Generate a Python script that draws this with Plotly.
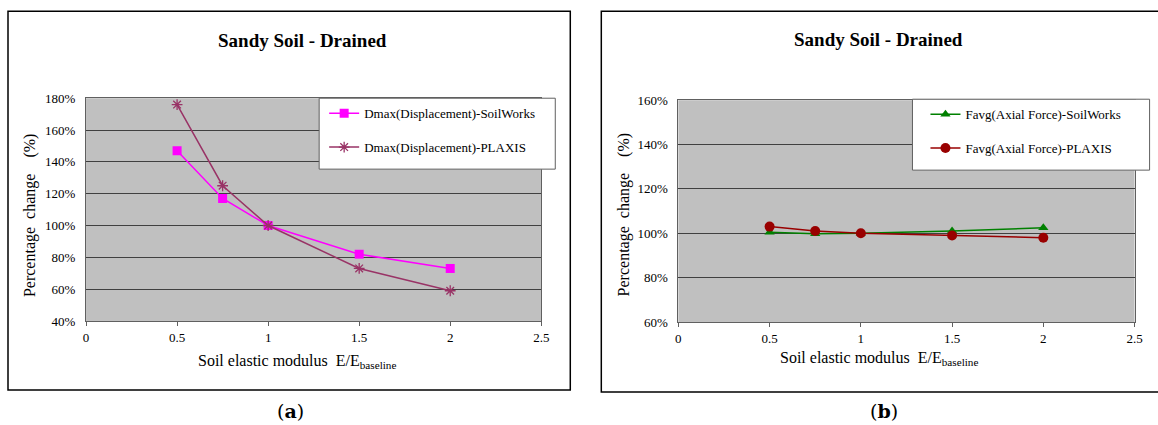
import plotly.graph_objects as go

# ---- data ----
x_vals = [0.5, 0.75, 1.0, 1.5, 2.0]
dmax_soilworks = [1.47, 1.17, 1.00, 0.82, 0.73]
dmax_plaxis = [1.76, 1.25, 1.00, 0.73, 0.59]
favg_soilworks = [1.005, 0.998, 1.00, 1.01, 1.025]
favg_plaxis = [1.03, 1.01, 1.00, 0.99, 0.98]

title_text = "Sandy Soil - Drained"
xtick_vals = [0, 0.5, 1, 1.5, 2, 2.5]
xtick_text = ["0", "0.5", "1", "1.5", "2", "2.5"]
ytick_a = [0.4, 0.6, 0.8, 1.0, 1.2, 1.4, 1.6, 1.8]
ytick_b = [0.6, 0.8, 1.0, 1.2, 1.4, 1.6]

W, H = 1158, 425
SERIF = "Liberation Serif, Times New Roman, serif"

# map target picture pixels to paper fractions (compensates the capture transform)
def px(X):
    return ((X - 3) / 0.99) / W

def py(Y):
    return 1 - ((Y - 5.7) / 0.9657) / H

fig = go.Figure()

fig.add_trace(go.Scatter(
    x=x_vals, y=dmax_soilworks, mode="lines+markers",
    name="Dmax(Displacement)-SoilWorks", legend="legend", legendgroup="a1",
    line=dict(color="#FF00FF", width=1.5),
    marker=dict(symbol="square", size=9, color="#FF00FF"),
    xaxis="x", yaxis="y"))
fig.add_trace(go.Scatter(
    x=x_vals, y=dmax_plaxis, mode="lines+markers",
    name="Dmax(Displacement)-PLAXIS", legend="legend", legendgroup="a2",
    line=dict(color="#993366", width=1.5),
    marker=dict(symbol="asterisk-open", size=9, color="#993366",
                line=dict(color="#993366", width=1.3)),
    xaxis="x", yaxis="y"))
fig.add_trace(go.Scatter(
    x=x_vals, y=favg_soilworks, mode="lines+markers",
    name="Favg(Axial Force)-SoilWorks", legend="legend2", legendgroup="b1",
    line=dict(color="#008000", width=1.5),
    marker=dict(symbol="triangle-up", size=9, color="#008000"),
    xaxis="x2", yaxis="y2"))
fig.add_trace(go.Scatter(
    x=x_vals, y=favg_plaxis, mode="lines+markers",
    name="Favg(Axial Force)-PLAXIS", legend="legend2", legendgroup="b2",
    line=dict(color="#990000", width=1.5),
    marker=dict(symbol="circle", size=10, color="#990000"),
    xaxis="x2", yaxis="y2"))

axis_common = dict(
    showgrid=False, zeroline=False, showline=True, linecolor="#606060",
    linewidth=1, mirror=True, ticks="outside", ticklen=4, tickcolor="#606060",
    tickfont=dict(family=SERIF, size=13, color="#000000"),
)
yaxis_common = dict(
    showgrid=True, gridcolor="#404040", gridwidth=1, zeroline=False,
    showline=True, linecolor="#606060", linewidth=1, mirror=True,
    ticks="", tickformat=".0%", ticklabelstandoff=7,
    tickfont=dict(family=SERIF, size=13, color="#000000"),
)

fig.update_layout(
    width=W, height=H,
    margin=dict(l=0, r=0, t=0, b=0),
    paper_bgcolor="white",
    plot_bgcolor="#C0C0C0",
    showlegend=True,
    xaxis=dict(domain=[px(86), px(541)], range=[0, 2.5], tickvals=xtick_vals,
               ticktext=xtick_text, anchor="y", **axis_common),
    yaxis=dict(domain=[py(320), py(97)], range=[0.4, 1.8], tickvals=ytick_a,
               anchor="x", **yaxis_common),
    xaxis2=dict(domain=[px(678), px(1134)], range=[0, 2.5], tickvals=xtick_vals,
                ticktext=xtick_text, anchor="y2", **axis_common),
    yaxis2=dict(domain=[py(321), py(99)], range=[0.6, 1.6], tickvals=ytick_b,
                anchor="x2", **yaxis_common),
    legend=dict(x=px(324), y=py(97), xanchor="left", yanchor="top",
                bgcolor="rgba(0,0,0,0)", borderwidth=0,
                font=dict(family=SERIF, size=13, color="#000000"),
                tracegroupgap=14, itemwidth=30),
    legend2=dict(x=px(925), y=py(98), xanchor="left", yanchor="top",
                 bgcolor="rgba(0,0,0,0)", borderwidth=0,
                 font=dict(family=SERIF, size=13, color="#000000"),
                 tracegroupgap=14, itemwidth=30),
)

shapes = [
    dict(type="rect", xref="paper", yref="paper", x0=px(8), x1=px(570),
         y0=py(389), y1=py(10), line=dict(color="#000000", width=1.5),
         fillcolor="rgba(0,0,0,0)", layer="above"),
    dict(type="rect", xref="paper", yref="paper", x0=px(601), x1=px(1175),
         y0=py(391), y1=py(10), line=dict(color="#000000", width=1.5),
         fillcolor="rgba(0,0,0,0)", layer="above"),
    dict(type="rect", xref="paper", yref="paper", x0=px(319), x1=px(555),
         y0=py(168), y1=py(97), line=dict(color="#606060", width=1),
         fillcolor="white", layer="above"),
    dict(type="rect", xref="paper", yref="paper", x0=px(912), x1=px(1149),
         y0=py(169), y1=py(98), line=dict(color="#606060", width=1),
         fillcolor="white", layer="above"),
]
fig.update_layout(shapes=shapes)

ann = []
for cx, cy in [(302, 39), (878, 38)]:
    ann.append(dict(text="<b>" + title_text + "</b>", x=px(cx), y=py(cy),
                    xref="paper", yref="paper", showarrow=False,
                    xanchor="center", yanchor="middle",
                    font=dict(family=SERIF, size=19, color="#000000")))
for cx, label in [(290, "(<b>a</b>)"), (884, "(<b>b</b>)")]:
    ann.append(dict(text=label, x=px(cx), y=py(410), xref="paper", yref="paper",
                    showarrow=False, xanchor="center", yanchor="middle",
                    font=dict(family="DejaVu Serif, serif", size=19, color="#000000")))
for cx, cy in [(297, 361), (879, 358)]:
    ann.append(dict(text="Soil elastic modulus  E/E<sub>baseline</sub>", x=px(cx), y=py(cy),
                    xref="paper", yref="paper", showarrow=False,
                    xanchor="center", yanchor="middle",
                    font=dict(family=SERIF, size=16, color="#000000")))
for cx, cy in [(30, 215), (624, 214)]:
    ann.append(dict(text="Percentage  change    (%)", x=px(cx), y=py(cy),
                    xref="paper", yref="paper", showarrow=False, textangle=-90,
                    xanchor="center", yanchor="middle",
                    font=dict(family=SERIF, size=16, color="#000000")))
fig.update_layout(annotations=ann)

fig.write_html(
    "out.html",
    config={"displayModeBar": False},
    post_script="document.body.style.margin='0';document.body.style.overflow='hidden';",
)
